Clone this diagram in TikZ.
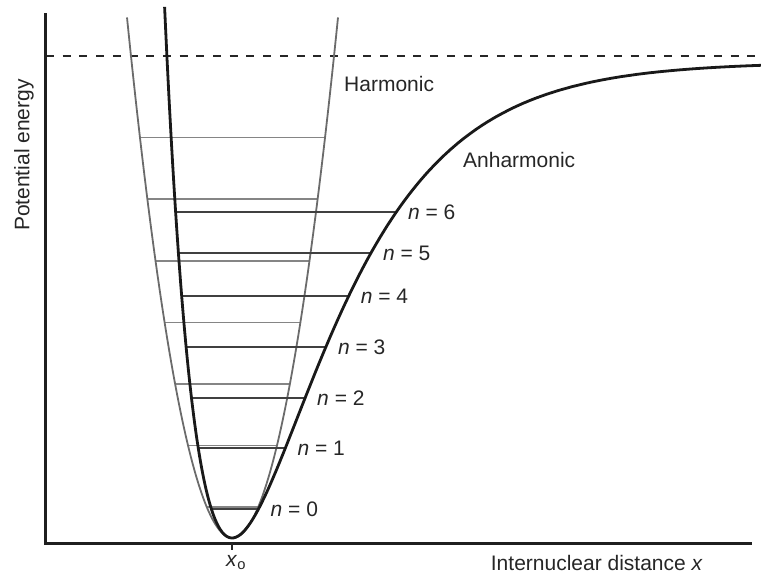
\documentclass[tikz,border=0pt]{standalone}
\usepackage{fontspec}
\setmainfont{Liberation Sans}
\begin{document}
\begin{tikzpicture}[x=1pt,y=-1pt,
  declare function={mv(\t)=476*(1-exp(-0.0107*\t))*(1-exp(-0.0107*\t));},
  axis/.style={line width=3pt,black!88,line join=miter},
  harm/.style={line width=1.8pt,black!58},
  harmlev/.style={line width=1.5pt,black!48},
  anh/.style={line width=2.8pt,black!90},
  anhlev/.style={line width=2.3pt,black!75},
  lab/.style={font=\fontsize{21}{25}\selectfont,text=black!85,inner sep=0pt}]
\useasboundingbox (0,0) rectangle (761,573);
% dissociation limit
\draw[line width=2pt,black!85,dash pattern=on 8pt off 8.7pt] (46,56) -- (761,56);
% harmonic levels
\foreach \n in {0,...,6}{
  \pgfmathsetmacro\E{30.8*(2*\n+1)}
  \pgfmathsetmacro\h{sqrt(\E/0.04677)}
  \draw[harmlev] ({232.5-\h},{538-\E}) -- ({232.5+\h},{538-\E});
}
% harmonic parabola
\draw[harm] plot[domain=-105.5:105.5,samples=120] ({232.5+\x},{538-0.04677*\x*\x});
% anharmonic levels
\foreach \n/\E in {0/29,1/90,2/140,3/191,4/242,5/285,6/326}{
  \pgfmathsetmacro\s{sqrt(\E/476)}
  \pgfmathsetmacro\xl{232-ln(1+\s)/0.0107}
  \pgfmathsetmacro\xr{232-ln(1-\s)/0.0107}
  \draw[anhlev] ({\xl},{538-\E}) -- ({\xr},{538-\E});
  \node[lab,anchor=base west] (lev\n) at ({\xr+12},{538-\E+7}) {\textit{n} = \n};
}
% Morse curve
\draw[anh] plot[domain=-67.4:529,samples=260,smooth] ({232+\x},{538-mv(\x)});
% axes
\draw[axis] (45.5,13) -- (45.5,543) -- (752,543);
\draw[line width=1.5pt,black!85] (232,543) -- (232,550);
% labels
\node[lab,rotate=90] (ylab) at (24,155) {Potential energy};
\node[lab,anchor=base west] (harmlab) at (344,91.7) {Harmonic};
\node[lab,anchor=base west] (anhlab) at (463,167.7) {Anharmonic};
\node[lab,anchor=base west] (xlab) at (490.7,570) {Internuclear distance \textit{x}};
\node[lab,anchor=base west] (x0) at (226,566) {\textit{x}\textsubscript{o}};
\end{tikzpicture}
\end{document}
